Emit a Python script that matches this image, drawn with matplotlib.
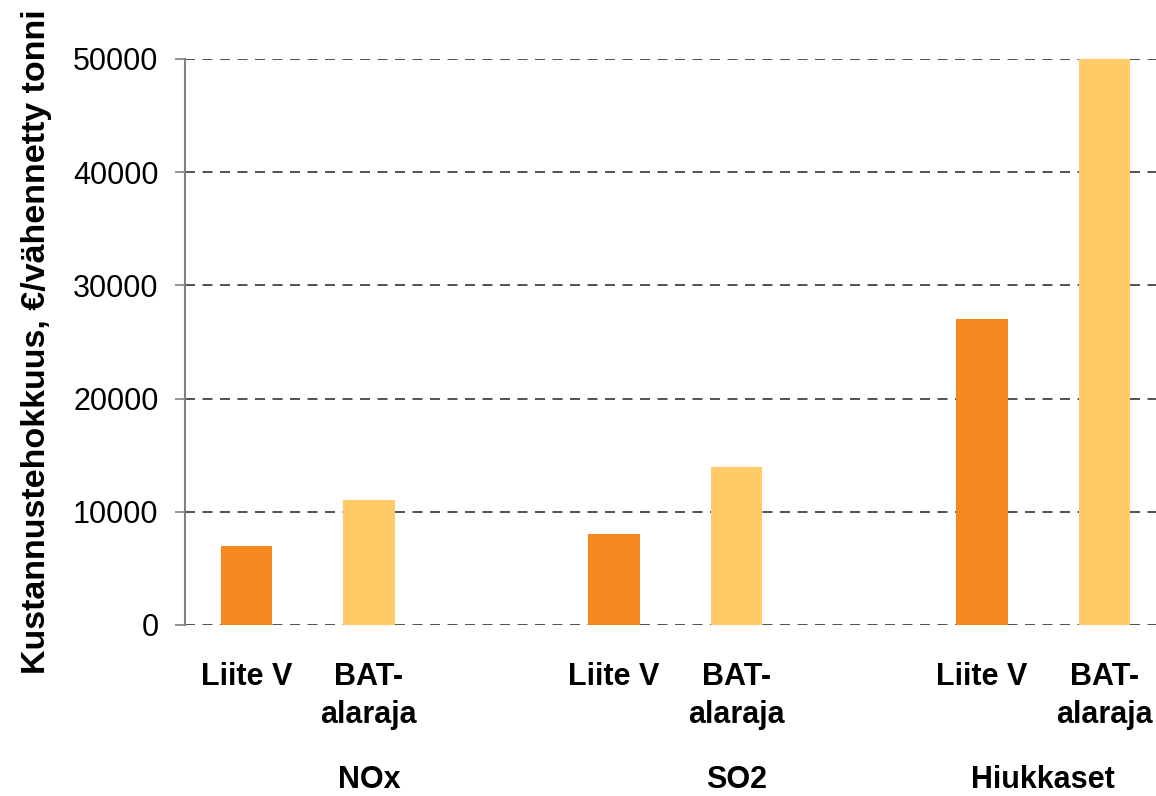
import matplotlib
matplotlib.use("Agg")
import matplotlib.pyplot as plt

# data
groups = ["NOx", "SO2", "Hiukkaset"]
bar_labels = ["Liite V", "BAT-\nalaraja"]
liite_v = [7000, 8000, 27000]
bat_alaraja = [11000, 14000, 50000]
yticks = [0, 10000, 20000, 30000, 40000, 50000]

plt.rcParams['font.family'] = ['Liberation Sans', 'DejaVu Sans']

fig = plt.figure(figsize=(11.56, 7.96), dpi=100)
ax = fig.add_axes([185/1156, 1 - 625/796, 1 - 185/1156, 566/796])

# slot layout: each group takes 3 slots, bars in first two
pos_a = [3*i for i in range(len(groups))]
pos_b = [3*i + 1 for i in range(len(groups))]
w = 0.42
ax.bar(pos_a, liite_v, width=w, color="#F5881F", zorder=3)
ax.bar(pos_b, bat_alaraja, width=w, color="#FECB66", zorder=3)

ax.set_xlim(-0.5, 7.42)
ax.set_ylim(0, 50000)
ax.set_yticks(yticks)
ax.set_yticklabels([str(v) for v in yticks], fontsize=22)
ax.set_xticks([])

for s in ["top", "right", "bottom"]:
    ax.spines[s].set_visible(False)
ax.spines["left"].set_color("#808080")
ax.spines["left"].set_linewidth(1.5)
ax.tick_params(axis="y", direction="out", length=7, width=1.2, color="#808080", pad=12)

ax.yaxis.grid(True, linestyle=(0, (6, 4.5)), color="#333333", linewidth=1.2, zorder=0)
ax.set_axisbelow(True)

ax.set_ylabel("Kustannustehokkuus, €/vähennetty tonni", fontsize=24.5, fontweight="bold")
ax.yaxis.set_label_coords(-0.137, 0.5)

tr = ax.get_xaxis_transform()
for i, g in enumerate(groups):
    ax.text(pos_a[i], -0.106, bar_labels[0], transform=tr, ha="center", va="baseline",
            fontsize=22, fontweight="bold", clip_on=False)
    ax.text(pos_b[i], -0.106, "BAT-", transform=tr, ha="center", va="baseline",
            fontsize=22, fontweight="bold", clip_on=False)
    ax.text(pos_b[i], -0.174, "alaraja", transform=tr, ha="center", va="baseline",
            fontsize=22, fontweight="bold", clip_on=False)

group_x = [1, 4, 6.5]
for gx, g in zip(group_x, groups):
    ax.text(gx, -0.288, g, transform=tr, ha="center", va="baseline",
            fontsize=22, fontweight="bold", clip_on=False)

fig.savefig("out.png", dpi=100)
